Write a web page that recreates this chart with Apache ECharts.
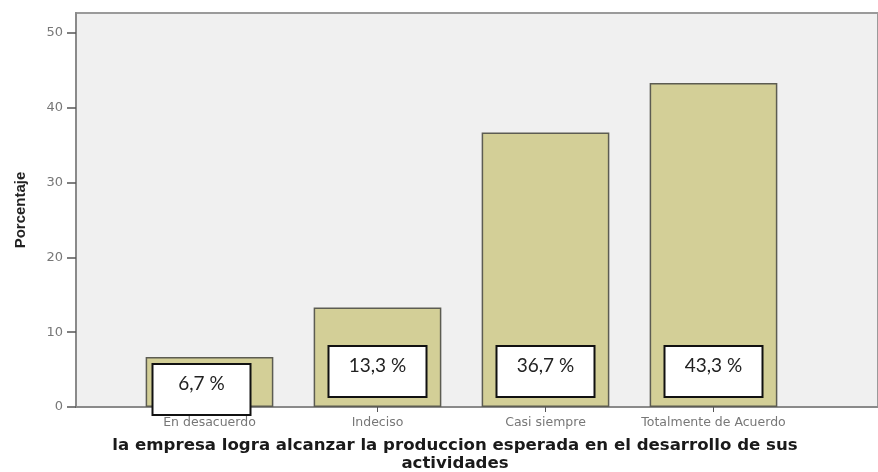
<!DOCTYPE html>
<html>
<head>
<meta charset="utf-8">
<script src="https://cdn.jsdelivr.net/npm/echarts@6/dist/echarts.min.js"></script>
<style>
  html, body { margin: 0; padding: 0; background: #fff; }
  #chart { width: 878px; height: 472px; }
</style>
</head>
<body>
<div id="chart"></div>
<script>
const categories = ['En desacuerdo', 'Indeciso', 'Casi siempre', 'Totalmente de Acuerdo']
const porcentajes = [6.7, 13.3, 36.7, 43.3]
const etiquetas = ['6,7 %', '13,3 %', '36,7 %', '43,3 %']
const yTicks = [0, 10, 20, 30, 40, 50]

const yMax = 52.67
const tituloX = 'la empresa logra alcanzar la produccion esperada en el desarrollo de sus\nactividades'

const chart = echarts.init(document.getElementById('chart'))

const barData = porcentajes.map((v, i) => {
  const item = { value: v }
  // the first box sits lower, hanging over the axis
  if (i === 0) item.label = { offset: [-8, 18] }
  return item
})

const option = {
  animation: false,
  backgroundColor: '#ffffff',
  title: {
    text: tituloX,
    left: 450,
    top: 432,
    textAlign: 'center',
    textStyle: {
      fontFamily: 'DejaVu Sans',
      fontWeight: 'bold',
      fontSize: 16.6,
      lineHeight: 18,
      color: '#1a1a1a'
    }
  },
  grid: [
    {
      left: 76, right: 0, top: 13, bottom: 65,
      show: true,
      backgroundColor: '#f0f0f0',
      borderColor: '#9a9a9a',
      borderWidth: 2
    },
    { left: 125.5, right: 80.5, top: 13, bottom: 65 }
  ],
  xAxis: [
    {
      gridIndex: 0, type: 'value', min: 0, max: 1,
      axisLine: { show: true, onZero: false, lineStyle: { color: '#8a8a8a', width: 2 } },
      axisTick: { show: false },
      axisLabel: { show: false },
      splitLine: { show: false }
    },
    {
      gridIndex: 1, type: 'category', data: categories,
      axisLine: { show: false },
      axisTick: { show: true, alignWithLabel: true, length: 5, lineStyle: { color: '#555' } },
      axisLabel: {
        interval: 0,
        margin: 9,
        fontFamily: 'DejaVu Sans',
        fontSize: 12.5,
        color: '#777'
      }
    }
  ],
  yAxis: [
    {
      gridIndex: 0, type: 'value', min: 0, max: yMax, interval: 10,
      name: 'Porcentaje',
      nameLocation: 'middle',
      nameGap: 48,
      nameTextStyle: {
        fontFamily: 'Liberation Sans Narrow, Liberation Sans',
        fontWeight: 'bold',
        fontSize: 15,
        color: '#222'
      },
      axisLine: { show: true, lineStyle: { color: '#8a8a8a', width: 2 } },
      axisTick: { show: true, length: 9, lineStyle: { color: '#555', width: 1.5 } },
      axisLabel: {
        margin: 13,
        fontFamily: 'DejaVu Sans',
        fontSize: 13,
        color: '#777',
        showMaxLabel: false,
        formatter: v => (yTicks.includes(v) ? String(v) : '')
      },
      splitLine: { show: false }
    },
    { gridIndex: 1, type: 'value', min: 0, max: yMax, show: false }
  ],
  series: [
    {
      type: 'bar',
      xAxisIndex: 1,
      yAxisIndex: 1,
      data: barData,
      barCategoryGap: '24%',
      itemStyle: {
        color: '#d3cf97',
        borderColor: '#5c5c52',
        borderWidth: 1.5
      },
      label: {
        show: true,
        position: 'insideBottom',
        distance: 11,
        formatter: p => etiquetas[p.dataIndex],
        fontFamily: 'Lato',
        fontSize: 19,
        color: '#222',
        backgroundColor: '#ffffff',
        borderColor: '#111',
        borderWidth: 2,
        width: 56,
        align: 'center',
        lineHeight: 20,
        padding: [9, 20, 20, 20]
      }
    }
  ]
}

chart.setOption(option)
</script>
</body>
</html>
